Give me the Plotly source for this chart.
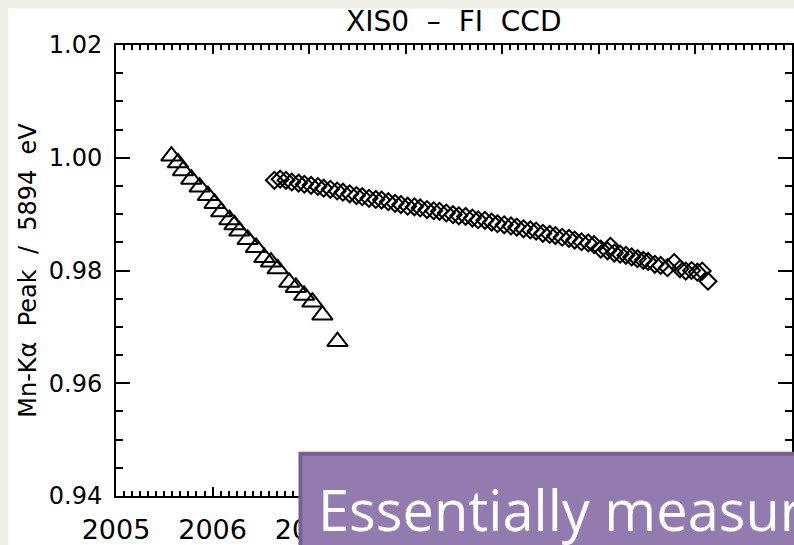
import plotly.graph_objects as go

# ---- data ----
tri_x = [2005.574, 2005.642, 2005.694, 2005.780, 2005.866, 2005.952, 2006.021, 2006.090,
         2006.175, 2006.227, 2006.278, 2006.364, 2006.450, 2006.536, 2006.605, 2006.674,
         2006.794, 2006.863, 2006.948, 2007.034, 2007.137, 2007.293]
tri_y = [1.0003, 0.9991, 0.9977, 0.9962, 0.9948, 0.9933, 0.9919, 0.9904,
         0.9890, 0.9881, 0.9870, 0.9855, 0.9841, 0.9823, 0.9815, 0.9803,
         0.9779, 0.9770, 0.9756, 0.9744, 0.9721, 0.9674]

dia_x = [2006.64, 2006.70, 2006.76, 2006.82, 2006.89, 2006.95, 2007.02, 2007.09, 2007.15, 2007.22,
         2007.29, 2007.35, 2007.42, 2007.49, 2007.55, 2007.62, 2007.69, 2007.75, 2007.82, 2007.89,
         2007.95, 2008.02, 2008.09, 2008.15, 2008.22, 2008.29, 2008.35, 2008.42, 2008.49, 2008.55,
         2008.62, 2008.69, 2008.75, 2008.82, 2008.89, 2008.95, 2009.02, 2009.09, 2009.15, 2009.22,
         2009.29, 2009.35, 2009.42, 2009.49, 2009.55, 2009.62, 2009.69, 2009.75, 2009.82, 2009.89,
         2009.95, 2010.02, 2010.09, 2010.12, 2010.16, 2010.22, 2010.28, 2010.34, 2010.40, 2010.46,
         2010.51, 2010.58, 2010.64, 2010.71, 2010.78, 2010.84, 2010.90, 2010.96, 2011.02, 2011.07,
         2011.13]
dia_y = [0.9960, 0.9962, 0.9960, 0.9957, 0.9955, 0.9953, 0.9951, 0.9949, 0.9946, 0.9944,
         0.9941, 0.9939, 0.9936, 0.9933, 0.9931, 0.9928, 0.9926, 0.9925, 0.9922, 0.9919,
         0.9917, 0.9914, 0.9913, 0.9911, 0.9908, 0.9906, 0.9905, 0.9902, 0.9899, 0.9897,
         0.9896, 0.9893, 0.9890, 0.9889, 0.9886, 0.9883, 0.9881, 0.9879, 0.9877, 0.9874,
         0.9872, 0.9870, 0.9866, 0.9864, 0.9862, 0.9859, 0.9857, 0.9854, 0.9851, 0.9849,
         0.9846, 0.9838, 0.9835, 0.9843, 0.9831, 0.9829, 0.9827, 0.9824, 0.9821, 0.9818,
         0.9816, 0.9811, 0.9809, 0.9805, 0.9814, 0.9803, 0.9799, 0.9800, 0.9797, 0.9799,
         0.9781]

x_ticks = [2005, 2006, 2007, 2008, 2009, 2010, 2011, 2012]
x_ticklabels = ["2005", "2006", "2007", "", "", "", "", ""]  # later years sit under the text box
y_ticks = [0.94, 0.96, 0.98, 1.00, 1.02]
y_ticklabels = ["0.94", "0.96", "0.98", "1.00", "1.02"]

title_text = "XIS0  –  FI  CCD"
ytitle_text = "Mn-Kα  Peak  /  5894  eV"
overlay_text = "Essentially measuring"

# ---- layout geometry (pixels) ----
W, H = 794, 545
L, T, R, B = 116, 45, 0, 42
pw, ph = W - L - R, H - T - B


def px(x):
    return (x - L) / pw


def py(y):
    return (H - B - y) / ph


fig = go.Figure()
fig.add_trace(go.Scatter(
    x=tri_x, y=tri_y, mode="markers",
    marker=dict(symbol="triangle-up-open", size=18, color="black", line=dict(width=2, color="black")),
    showlegend=False,
))
fig.add_trace(go.Scatter(
    x=dia_x, y=dia_y, mode="markers",
    marker=dict(symbol="diamond-open", size=13, color="black", line=dict(width=2, color="black")),
    showlegend=False,
))

axis_font = "DejaVu Sans, Arial, sans-serif"

fig.update_xaxes(
    range=[2005, 2012], tickvals=x_ticks, ticktext=x_ticklabels,
    showgrid=False, zeroline=False, showline=True, linecolor="black", linewidth=2,
    mirror="allticks", ticks="inside", ticklen=9, tickwidth=2, tickcolor="black",
    minor=dict(dtick=1 / 12, tick0=2005, ticks="inside", ticklen=5, tickwidth=1.5, tickcolor="black", showgrid=False),
    tickfont=dict(family=axis_font, size=27, color="black"),
    ticklabelstandoff=9,
)
fig.update_yaxes(
    range=[0.94, 1.02], tickvals=y_ticks, ticktext=y_ticklabels,
    showgrid=False, zeroline=False, showline=True, linecolor="black", linewidth=2,
    mirror="allticks", ticks="inside", ticklen=14, tickwidth=2, tickcolor="black",
    minor=dict(dtick=0.005, tick0=0.94, ticks="inside", ticklen=7, tickwidth=1.5, tickcolor="black", showgrid=False),
    tickfont=dict(family=axis_font, size=24, color="black"),
    ticklabelstandoff=7,
)

shapes = [
    # white slide area
    dict(type="rect", xref="paper", yref="paper", layer="below",
         x0=px(8), x1=px(820), y0=py(8), y1=py(560),
         fillcolor="white", line=dict(width=0)),
    # purple text box
    dict(type="rect", xref="paper", yref="paper", layer="above",
         x0=px(301), x1=px(830), y0=py(460), y1=py(580),
         fillcolor="#937bb0", line=dict(width=4, color="#75608f")),
]

annotations = [
    dict(text=title_text, xref="paper", yref="paper", x=px(454), y=py(21),
         xanchor="center", yanchor="middle", showarrow=False,
         font=dict(family=axis_font, size=28, color="black")),
    dict(text=ytitle_text, xref="paper", yref="paper", x=px(27), y=py(274),
         xanchor="center", yanchor="middle", textangle=-90, showarrow=False,
         font=dict(family=axis_font, size=24, color="black")),
    dict(text=overlay_text, xref="paper", yref="paper", x=px(317), y=py(516),
         xanchor="left", yanchor="middle", showarrow=False,
         font=dict(family="Open Sans, Lato, sans-serif", size=56, color="white")),
]

fig.update_layout(
    width=W, height=H,
    margin=dict(l=L, r=R, t=T, b=B, pad=0),
    paper_bgcolor="#efefe7", plot_bgcolor="white",
    shapes=shapes, annotations=annotations,
    showlegend=False,
)

fig.write_html("out.html")
